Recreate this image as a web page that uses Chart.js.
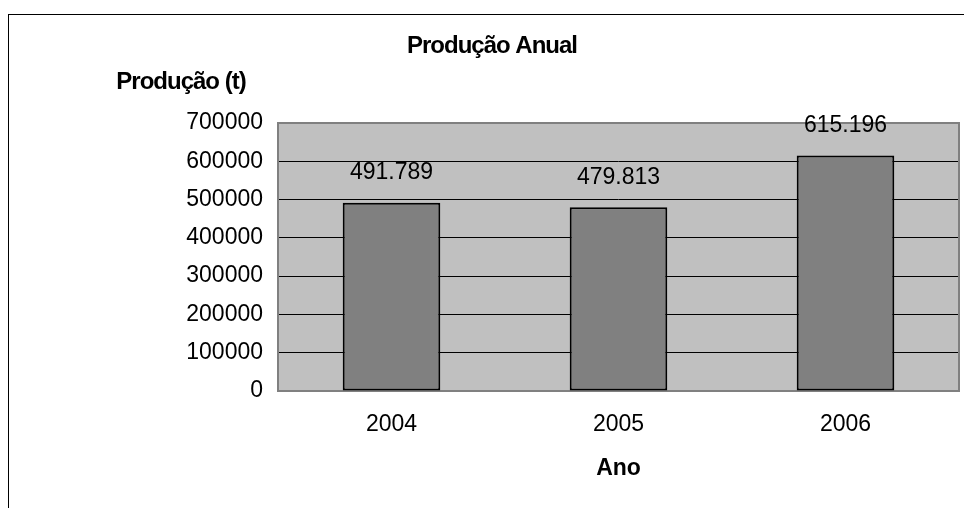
<!DOCTYPE html>
<html lang="pt">
<head>
<meta charset="utf-8">
<title>Produção Anual</title>
<script src="https://cdn.jsdelivr.net/npm/chart.js@4.4.1/dist/chart.umd.min.js"></script>
<style>
  html, body { margin: 0; padding: 0; background: #fff; }
  #wrap { width: 964px; height: 508px; position: relative; }
</style>
</head>
<body>
<div id="wrap"><canvas id="chart"></canvas></div>
<script>
  // --- data ---
  const ANOS = ['2004', '2005', '2006'];
  const PRODUCAO = [491789, 479813, 615196];
  const Y_TICKS = [0, 100000, 200000, 300000, 400000, 500000, 600000, 700000];

  const FONT = "'Liberation Sans', Arial, sans-serif";

  // 491789 -> "491.789"
  function fmt(v) {
    return String(v).replace(/\B(?=(\d{3})+(?!\d))/g, '.');
  }

  // outer frame, plot background and plot border
  const framePlugin = {
    id: 'frame',
    beforeDraw(chart) {
      const { ctx, chartArea: a } = chart;
      ctx.save();
      ctx.strokeStyle = '#000';
      ctx.lineWidth = 1;
      ctx.strokeRect(8.5, 14.5, chart.width + 20, chart.height + 20);
      ctx.fillStyle = '#C0C0C0';
      ctx.fillRect(a.left, a.top, a.right - a.left, a.bottom - a.top);
      ctx.restore();
    },
    beforeDatasetsDraw(chart) {
      const { ctx, chartArea: a } = chart;
      ctx.save();
      ctx.strokeStyle = '#808080';
      ctx.lineWidth = 2;
      ctx.strokeRect(a.left, a.top, a.right - a.left, a.bottom - a.top);
      ctx.restore();
    }
  };

  // titles and value labels
  const textPlugin = {
    id: 'texts',
    afterDatasetsDraw(chart) {
      const { ctx } = chart;
      ctx.save();
      ctx.fillStyle = '#000';
      ctx.textBaseline = 'middle';
      ctx.textAlign = 'center';

      ctx.font = 'bold 24px ' + FONT;
      ctx.letterSpacing = '-1px';
      ctx.fillText('Produção Anual', 492, 46);
      ctx.fillText('Produção (t)', 181, 82);

      ctx.font = '23px ' + FONT;
      ctx.letterSpacing = '0px';
      chart.getDatasetMeta(0).data.forEach((bar, i) => {
        ctx.fillText(fmt(PRODUCAO[i]), bar.x, bar.y - 30);
      });
      ctx.restore();
    }
  };

  new Chart(document.getElementById('chart'), {
    type: 'bar',
    data: {
      labels: ANOS,
      datasets: [{
        data: PRODUCAO,
        backgroundColor: '#808080',
        borderColor: '#000',
        borderWidth: 2,
        borderSkipped: false,
        categoryPercentage: 1,
        barPercentage: 0.43
      }]
    },
    options: {
      responsive: true,
      maintainAspectRatio: false,
      animation: false,
      layout: { padding: { left: 8, top: 123, right: 5, bottom: 0 } },
      plugins: {
        legend: { display: false },
        title: { display: false },
        tooltip: { enabled: false }
      },
      scales: {
        x: {
          grid: { display: false },
          border: { display: false },
          ticks: { color: '#000', font: { family: FONT, size: 23 }, padding: 12 },
          title: {
            display: true,
            text: 'Ano',
            color: '#000',
            font: { family: FONT, size: 23, weight: 'bold' },
            padding: { top: 0, bottom: 26 }
          },
          afterFit(scale) { scale.height = 117; }
        },
        y: {
          min: 0,
          max: 700000,
          afterBuildTicks(scale) { scale.ticks = Y_TICKS.map(v => ({ value: v })); },
          grid: { color: '#000', lineWidth: 1, drawTicks: false },
          border: { display: false },
          ticks: {
            color: '#000',
            font: { family: FONT, size: 23 },
            padding: 15,
            callback: v => String(v)
          },
          afterFit(scale) { scale.width = 270; }
        }
      }
    },
    plugins: [framePlugin, textPlugin]
  });
</script>
</body>
</html>
